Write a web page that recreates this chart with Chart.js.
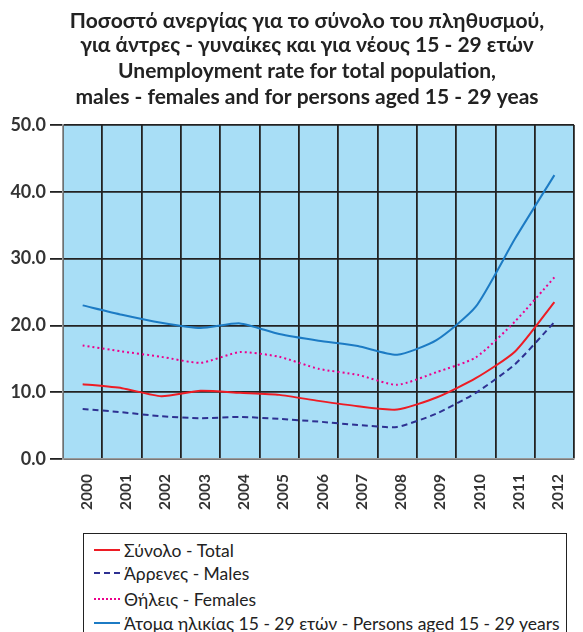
<!DOCTYPE html>
<html>
<head>
<meta charset="utf-8">
<script src="https://cdn.jsdelivr.net/npm/chart.js@4"></script>
<style>
  html, body { margin: 0; padding: 0; background: #fff; overflow: hidden; }
  #wrap { position: relative; width: 588px; height: 632px; }
  #legend { position: absolute; left: 83px; top: 533px; width: 484px; height: 120px;
    border: 1.5px solid #222; background: #fff; font-family: Lato, "Open Sans", sans-serif;
    font-size: 17.5px; color: #222; box-sizing: border-box; }
  .item { position: absolute; left: 10px; height: 20px; display: flex; align-items: center; white-space: nowrap; }
  .sample { width: 26px; height: 0; margin-right: 4px; }
</style>
</head>
<body>
<div id="wrap">
  <canvas id="c" width="588" height="632"></canvas>
  <div id="legend"></div>
</div>
<script>
const years = ["2000","2001","2002","2003","2004","2005","2006","2007","2008","2009","2010","2011","2012"];
const totalRate  = [11.2, 10.6, 9.4, 10.2, 9.9, 9.6, 8.7, 7.9, 7.4, 9.2, 12.1, 16.1, 23.5];
const malesRate  = [7.5, 7.0, 6.4, 6.1, 6.3, 6.0, 5.6, 5.1, 4.8, 6.8, 9.9, 14.2, 20.5];
const femalesRate= [17.0, 16.1, 15.3, 14.4, 16.0, 15.3, 13.5, 12.6, 11.1, 13.0, 15.2, 20.6, 27.2];
const youthRate  = [23.0, 21.6, 20.4, 19.6, 20.3, 18.7, 17.7, 16.9, 15.6, 17.8, 22.8, 33.0, 42.5];
const seriesNames = ["Σύνολο - Total", "Άρρενες - Males", "Θήλεις - Females", "Άτομα ηλικίας 15 - 29 ετών - Persons aged 15 - 29 years"];
const titleLines = [
  "Ποσοστό ανεργίας για το σύνολο του πληθυσμού,",
  "για άντρες - γυναίκες και για νέους 15 - 29 ετών",
  "Unemployment rate for total population,",
  "males - females and for persons aged 15 - 29 yeas"
];
const yTicks = [0, 10, 20, 30, 40, 50];

const colors = ["#ED1C24", "#2E3192", "#EC008C", "#1C7BC4"];
const dashes = [[], [6, 4], [2, 3], []];

const bgPlugin = {
  id: 'bg',
  beforeDraw(chart) {
    const a = chart.chartArea, ctx = chart.ctx;
    ctx.save();
    ctx.fillStyle = "rgb(168,222,246)";
    ctx.fillRect(a.left, a.top, a.right - a.left, a.bottom - a.top);
    ctx.restore();
  }
};
const titlePlugin = {
  id: 'titleLines',
  afterDraw(chart) {
    const ctx = chart.ctx;
    ctx.save();
    ctx.fillStyle = "#222";
    ctx.font = "bold 21px Lato, 'Open Sans', sans-serif";
    ctx.textAlign = "center";
    ctx.textBaseline = "middle";
    const ys = [21, 45, 71, 97];
    titleLines.forEach((t, i) => ctx.fillText(t, 307, ys[i]));
    ctx.restore();
  }
};

new Chart(document.getElementById('c'), {
  type: 'line',
  data: {
    labels: years,
    datasets: [totalRate, malesRate, femalesRate, youthRate].map((d, i) => ({
      label: seriesNames[i],
      data: d,
      borderColor: colors[i],
      backgroundColor: colors[i],
      borderWidth: 2,
      borderDash: dashes[i],
      pointRadius: 0,
      tension: 0.2,
      fill: false
    }))
  },
  options: {
    responsive: false,
    animation: false,
    layout: { padding: { top: 125, left: 0, right: 0, bottom: 0 } },
    plugins: { legend: { display: false }, title: { display: false }, tooltip: { enabled: false } },
    scales: {
      x: {
        offset: true,
        grid: { offset: true, color: "#222", lineWidth: 1.8, drawTicks: false },
        border: { color: "#999", width: 1.5 },
        ticks: { minRotation: 90, maxRotation: 90, padding: 15, labelOffset: 4,
          color: "#333", font: { family: "Lato, 'Open Sans', sans-serif", size: 15.5, weight: 'bold' } },
        afterFit(s) { s.height = 632 - 459; }
      },
      y: {
        min: 0, max: 50,
        afterBuildTicks(s) { s.ticks = yTicks.map(v => ({ value: v })); },
        grid: { color: "#222", lineWidth: 1.8, tickLength: 13 },
        border: { color: "#999", width: 1.5 },
        ticks: { padding: 4, color: "#333", callback: v => Number(v).toFixed(1),
          font: { family: "Lato, 'Open Sans', sans-serif", size: 18, weight: 'bold' } },
        afterFit(s) { s.width = 63; }
      }
    }
  },
  plugins: [bgPlugin, titlePlugin]
});

// HTML legend
const legend = document.getElementById('legend');
const tops = [6, 29, 55, 79];
seriesNames.forEach((name, i) => {
  const it = document.createElement('div');
  it.className = 'item';
  it.style.top = tops[i] + 'px';
  const s = document.createElement('span');
  s.className = 'sample';
  const style = i === 1 ? 'dashed' : (i === 2 ? 'dotted' : 'solid');
  s.style.borderTop = '2px ' + style + ' ' + colors[i];
  const t = document.createElement('span');
  t.textContent = name;
  it.appendChild(s); it.appendChild(t);
  legend.appendChild(it);
});
</script>
</body>
</html>
